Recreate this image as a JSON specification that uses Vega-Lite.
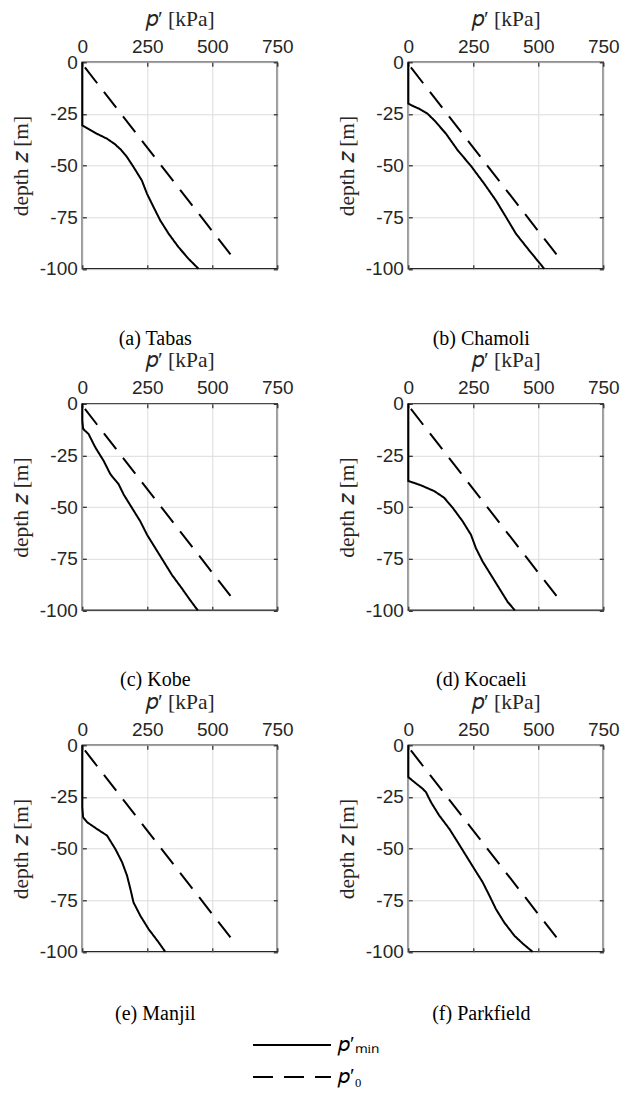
{
  "$schema": "https://vega.github.io/schema/vega-lite/v6.json",
  "autosize": {"type": "none"},
  "padding": {"left": 82.3, "top": 62.3, "right": 539.7, "bottom": 1032.7},
  "background": "white",
  "data": {"values": [
    {"q":"Tabas","s":"pmin","p":0,"z":0},{"q":"Tabas","s":"pmin","p":0,"z":-30.5},{"q":"Tabas","s":"pmin","p":20,"z":-32},{"q":"Tabas","s":"pmin","p":56,"z":-34.6},{"q":"Tabas","s":"pmin","p":95,"z":-37},{"q":"Tabas","s":"pmin","p":125,"z":-39.6},{"q":"Tabas","s":"pmin","p":150,"z":-42.5},{"q":"Tabas","s":"pmin","p":172,"z":-45.9},{"q":"Tabas","s":"pmin","p":197,"z":-50.7},{"q":"Tabas","s":"pmin","p":229,"z":-57.2},{"q":"Tabas","s":"pmin","p":249,"z":-63.7},{"q":"Tabas","s":"pmin","p":274,"z":-70.1},{"q":"Tabas","s":"pmin","p":300,"z":-76.6},{"q":"Tabas","s":"pmin","p":332,"z":-83},{"q":"Tabas","s":"pmin","p":370,"z":-89.5},{"q":"Tabas","s":"pmin","p":409,"z":-95.2},{"q":"Tabas","s":"pmin","p":447,"z":-100},
    {"q":"Tabas","s":"p0","p":10,"z":-2.5},{"q":"Tabas","s":"p0","p":585,"z":-95.5},
    {"q":"Chamoli","s":"pmin","p":0,"z":0},{"q":"Chamoli","s":"pmin","p":0,"z":-20},{"q":"Chamoli","s":"pmin","p":20,"z":-21.3},{"q":"Chamoli","s":"pmin","p":42,"z":-22.5},{"q":"Chamoli","s":"pmin","p":74,"z":-24.9},{"q":"Chamoli","s":"pmin","p":100,"z":-28.1},{"q":"Chamoli","s":"pmin","p":145,"z":-34.6},{"q":"Chamoli","s":"pmin","p":190,"z":-42.6},{"q":"Chamoli","s":"pmin","p":241,"z":-50.2},{"q":"Chamoli","s":"pmin","p":292,"z":-58.8},{"q":"Chamoli","s":"pmin","p":337,"z":-66.9},{"q":"Chamoli","s":"pmin","p":376,"z":-75},{"q":"Chamoli","s":"pmin","p":414,"z":-83},{"q":"Chamoli","s":"pmin","p":465,"z":-91.1},{"q":"Chamoli","s":"pmin","p":523,"z":-100},
    {"q":"Chamoli","s":"p0","p":10,"z":-2.5},{"q":"Chamoli","s":"p0","p":585,"z":-95.5},
    {"q":"Kobe","s":"pmin","p":0,"z":0},{"q":"Kobe","s":"pmin","p":0,"z":-8},{"q":"Kobe","s":"pmin","p":3,"z":-12},{"q":"Kobe","s":"pmin","p":10,"z":-13},{"q":"Kobe","s":"pmin","p":24,"z":-14.6},{"q":"Kobe","s":"pmin","p":50,"z":-21.1},{"q":"Kobe","s":"pmin","p":82,"z":-27.6},{"q":"Kobe","s":"pmin","p":108,"z":-34.1},{"q":"Kobe","s":"pmin","p":140,"z":-39},{"q":"Kobe","s":"pmin","p":159,"z":-43.9},{"q":"Kobe","s":"pmin","p":191,"z":-50.4},{"q":"Kobe","s":"pmin","p":223,"z":-56.9},{"q":"Kobe","s":"pmin","p":249,"z":-63.4},{"q":"Kobe","s":"pmin","p":281,"z":-69.9},{"q":"Kobe","s":"pmin","p":313,"z":-76.4},{"q":"Kobe","s":"pmin","p":345,"z":-82.9},{"q":"Kobe","s":"pmin","p":383,"z":-89.4},{"q":"Kobe","s":"pmin","p":415,"z":-95.1},{"q":"Kobe","s":"pmin","p":444,"z":-100},
    {"q":"Kobe","s":"p0","p":10,"z":-2.5},{"q":"Kobe","s":"p0","p":585,"z":-95.5},
    {"q":"Kocaeli","s":"pmin","p":0,"z":0},{"q":"Kocaeli","s":"pmin","p":0,"z":-37.4},{"q":"Kocaeli","s":"pmin","p":20,"z":-38.2},{"q":"Kocaeli","s":"pmin","p":49,"z":-39.5},{"q":"Kocaeli","s":"pmin","p":100,"z":-42.3},{"q":"Kocaeli","s":"pmin","p":138,"z":-45.5},{"q":"Kocaeli","s":"pmin","p":171,"z":-50.4},{"q":"Kocaeli","s":"pmin","p":209,"z":-56.9},{"q":"Kocaeli","s":"pmin","p":241,"z":-63.4},{"q":"Kocaeli","s":"pmin","p":260,"z":-69.9},{"q":"Kocaeli","s":"pmin","p":286,"z":-76.4},{"q":"Kocaeli","s":"pmin","p":318,"z":-82.9},{"q":"Kocaeli","s":"pmin","p":350,"z":-89.4},{"q":"Kocaeli","s":"pmin","p":382,"z":-95.9},{"q":"Kocaeli","s":"pmin","p":410,"z":-100},
    {"q":"Kocaeli","s":"p0","p":10,"z":-2.5},{"q":"Kocaeli","s":"p0","p":585,"z":-95.5},
    {"q":"Manjil","s":"pmin","p":0,"z":0},{"q":"Manjil","s":"pmin","p":0,"z":-30},{"q":"Manjil","s":"pmin","p":3,"z":-34.8},{"q":"Manjil","s":"pmin","p":18,"z":-37.2},{"q":"Manjil","s":"pmin","p":56,"z":-40.5},{"q":"Manjil","s":"pmin","p":95,"z":-43.7},{"q":"Manjil","s":"pmin","p":127,"z":-50.2},{"q":"Manjil","s":"pmin","p":153,"z":-56.6},{"q":"Manjil","s":"pmin","p":172,"z":-63.1},{"q":"Manjil","s":"pmin","p":185,"z":-69.6},{"q":"Manjil","s":"pmin","p":197,"z":-76.1},{"q":"Manjil","s":"pmin","p":223,"z":-82.5},{"q":"Manjil","s":"pmin","p":255,"z":-89},{"q":"Manjil","s":"pmin","p":294,"z":-95.5},{"q":"Manjil","s":"pmin","p":319,"z":-100},
    {"q":"Manjil","s":"p0","p":10,"z":-2.5},{"q":"Manjil","s":"p0","p":585,"z":-95.5},
    {"q":"Parkfield","s":"pmin","p":0,"z":0},{"q":"Parkfield","s":"pmin","p":0,"z":-15.4},{"q":"Parkfield","s":"pmin","p":23,"z":-17.8},{"q":"Parkfield","s":"pmin","p":55,"z":-21},{"q":"Parkfield","s":"pmin","p":68,"z":-22.7},{"q":"Parkfield","s":"pmin","p":87,"z":-27.5},{"q":"Parkfield","s":"pmin","p":119,"z":-34},{"q":"Parkfield","s":"pmin","p":158,"z":-40.5},{"q":"Parkfield","s":"pmin","p":190,"z":-46.9},{"q":"Parkfield","s":"pmin","p":222,"z":-53.4},{"q":"Parkfield","s":"pmin","p":254,"z":-59.9},{"q":"Parkfield","s":"pmin","p":286,"z":-66.3},{"q":"Parkfield","s":"pmin","p":312,"z":-72.8},{"q":"Parkfield","s":"pmin","p":337,"z":-79.3},{"q":"Parkfield","s":"pmin","p":369,"z":-85.8},{"q":"Parkfield","s":"pmin","p":408,"z":-92.2},{"q":"Parkfield","s":"pmin","p":440,"z":-96},{"q":"Parkfield","s":"pmin","p":478,"z":-100},
    {"q":"Parkfield","s":"p0","p":10,"z":-2.5},{"q":"Parkfield","s":"p0","p":585,"z":-95.5}
  ]},
  "config": {
    "view": {"stroke": "#262626", "strokeWidth": 1.5},
    "axis": {"domain": false, "tickColor": "#262626", "tickSize": -4, "tickWidth": 1.2, "labelFont": "Liberation Sans", "labelFontSize": 19, "labelColor": "#262626", "labelFlush": false, "labelOverlap": false, "titleFont": "Liberation Serif", "titleFontSize": 21.5, "titleFontWeight": "normal", "titleColor": "#262626", "gridColor": "#dcdcdc", "gridWidth": 1, "labelPadding": 9, "titlePadding": 7},
    "title": {"font": "Liberation Serif", "fontSize": 20, "fontWeight": "normal", "color": "black"},
    "legend": {"title": null, "padding": 0, "symbolType": "stroke", "symbolSize": 6084, "symbolStrokeWidth": 2, "symbolStrokeColor": "black", "labelFont": "Liberation Serif", "labelFontSize": 21, "labelColor": "black", "clipHeight": 22, "rowPadding": 10, "labelOffset": 6}
  },
  "columns": 2,
  "spacing": {"row": 134.5, "column": 131},
  "bounds": "flush",
  "concat": [
    {
      "width": 195, "height": 206.5,
      "transform": [{"filter": "datum.q === 'Tabas'"}],
      "title": {"text": "(a) Tabas", "orient": "bottom", "offset": 66.5, "baseline": "alphabetic", "anchor": "middle", "frame": "group", "dx": -24.5},
      "layer": [
        {"mark": {"type": "line", "strokeWidth": 2, "color": "black"},
         "encoding": {
           "x": {"field": "p", "type": "quantitative", "scale": {"domain": [0, 750], "nice": false}, "axis": {"orient": "top", "title": "𝑝′ [kPa]", "values": [0, 250, 500, 750], "labelExpr": "'' + datum.value", "grid": true, "labelPadding": 10}},
           "y": {"field": "z", "type": "quantitative", "scale": {"domain": [-100, 0], "nice": false}, "axis": {"orient": "left", "title": "depth 𝑧 [m]", "values": [-100, -75, -50, -25, 0], "labelExpr": "'' + datum.value", "grid": true}},
           "strokeDash": {"field": "s", "type": "nominal", "scale": {"domain": ["pmin", "p0"], "range": [[1, 0], [20, 11]]}, "legend": {"orient": "none", "legendX": 169.7, "legendY": 971.7, "labelExpr": "datum.value === 'pmin' ? '𝑝′ₘᵢₙ' : '𝑝′₀'"}},
           "order": {"field": "z", "sort": "descending"}
         }},
        {"mark": {"type": "line", "opacity": 0},
         "encoding": {
           "x": {"field": "p", "type": "quantitative", "axis": {"orient": "bottom", "title": null, "labels": false, "grid": false, "values": [0, 250, 500, 750]}},
           "y": {"field": "z", "type": "quantitative", "axis": {"orient": "right", "title": null, "labels": false, "grid": false, "values": [-100, -75, -50, -25, 0]}}
         }}
      ],
      "resolve": {"axis": {"x": "independent", "y": "independent"}}
    },
    {
      "width": 195, "height": 206.5,
      "transform": [{"filter": "datum.q === 'Chamoli'"}],
      "title": {"text": "(b) Chamoli", "orient": "bottom", "offset": 66.5, "baseline": "alphabetic", "anchor": "middle", "frame": "group", "dx": -24.5},
      "layer": [
        {"mark": {"type": "line", "strokeWidth": 2, "color": "black"},
         "encoding": {
           "x": {"field": "p", "type": "quantitative", "scale": {"domain": [0, 750], "nice": false}, "axis": {"orient": "top", "title": "𝑝′ [kPa]", "values": [0, 250, 500, 750], "labelExpr": "'' + datum.value", "grid": true, "labelPadding": 10}},
           "y": {"field": "z", "type": "quantitative", "scale": {"domain": [-100, 0], "nice": false}, "axis": {"orient": "left", "title": "depth 𝑧 [m]", "values": [-100, -75, -50, -25, 0], "labelExpr": "'' + datum.value", "grid": true}},
           "strokeDash": {"field": "s", "type": "nominal", "scale": {"domain": ["pmin", "p0"], "range": [[1, 0], [20, 11]]}, "legend": {"orient": "none", "legendX": 169.7, "legendY": 971.7, "labelExpr": "datum.value === 'pmin' ? '𝑝′ₘᵢₙ' : '𝑝′₀'"}},
           "order": {"field": "z", "sort": "descending"}
         }},
        {"mark": {"type": "line", "opacity": 0},
         "encoding": {
           "x": {"field": "p", "type": "quantitative", "axis": {"orient": "bottom", "title": null, "labels": false, "grid": false, "values": [0, 250, 500, 750]}},
           "y": {"field": "z", "type": "quantitative", "axis": {"orient": "right", "title": null, "labels": false, "grid": false, "values": [-100, -75, -50, -25, 0]}}
         }}
      ],
      "resolve": {"axis": {"x": "independent", "y": "independent"}}
    },
    {
      "width": 195, "height": 206.5,
      "transform": [{"filter": "datum.q === 'Kobe'"}],
      "title": {"text": "(c) Kobe", "orient": "bottom", "offset": 66, "baseline": "alphabetic", "anchor": "middle", "frame": "group", "dx": -24.5},
      "layer": [
        {"mark": {"type": "line", "strokeWidth": 2, "color": "black"},
         "encoding": {
           "x": {"field": "p", "type": "quantitative", "scale": {"domain": [0, 750], "nice": false}, "axis": {"orient": "top", "title": "𝑝′ [kPa]", "values": [0, 250, 500, 750], "labelExpr": "'' + datum.value", "grid": true, "labelPadding": 10}},
           "y": {"field": "z", "type": "quantitative", "scale": {"domain": [-100, 0], "nice": false}, "axis": {"orient": "left", "title": "depth 𝑧 [m]", "values": [-100, -75, -50, -25, 0], "labelExpr": "'' + datum.value", "grid": true}},
           "strokeDash": {"field": "s", "type": "nominal", "scale": {"domain": ["pmin", "p0"], "range": [[1, 0], [20, 11]]}, "legend": {"orient": "none", "legendX": 169.7, "legendY": 971.7, "labelExpr": "datum.value === 'pmin' ? '𝑝′ₘᵢₙ' : '𝑝′₀'"}},
           "order": {"field": "z", "sort": "descending"}
         }},
        {"mark": {"type": "line", "opacity": 0},
         "encoding": {
           "x": {"field": "p", "type": "quantitative", "axis": {"orient": "bottom", "title": null, "labels": false, "grid": false, "values": [0, 250, 500, 750]}},
           "y": {"field": "z", "type": "quantitative", "axis": {"orient": "right", "title": null, "labels": false, "grid": false, "values": [-100, -75, -50, -25, 0]}}
         }}
      ],
      "resolve": {"axis": {"x": "independent", "y": "independent"}}
    },
    {
      "width": 195, "height": 206.5,
      "transform": [{"filter": "datum.q === 'Kocaeli'"}],
      "title": {"text": "(d) Kocaeli", "orient": "bottom", "offset": 66, "baseline": "alphabetic", "anchor": "middle", "frame": "group", "dx": -24.5},
      "layer": [
        {"mark": {"type": "line", "strokeWidth": 2, "color": "black"},
         "encoding": {
           "x": {"field": "p", "type": "quantitative", "scale": {"domain": [0, 750], "nice": false}, "axis": {"orient": "top", "title": "𝑝′ [kPa]", "values": [0, 250, 500, 750], "labelExpr": "'' + datum.value", "grid": true, "labelPadding": 10}},
           "y": {"field": "z", "type": "quantitative", "scale": {"domain": [-100, 0], "nice": false}, "axis": {"orient": "left", "title": "depth 𝑧 [m]", "values": [-100, -75, -50, -25, 0], "labelExpr": "'' + datum.value", "grid": true}},
           "strokeDash": {"field": "s", "type": "nominal", "scale": {"domain": ["pmin", "p0"], "range": [[1, 0], [20, 11]]}, "legend": {"orient": "none", "legendX": 169.7, "legendY": 971.7, "labelExpr": "datum.value === 'pmin' ? '𝑝′ₘᵢₙ' : '𝑝′₀'"}},
           "order": {"field": "z", "sort": "descending"}
         }},
        {"mark": {"type": "line", "opacity": 0},
         "encoding": {
           "x": {"field": "p", "type": "quantitative", "axis": {"orient": "bottom", "title": null, "labels": false, "grid": false, "values": [0, 250, 500, 750]}},
           "y": {"field": "z", "type": "quantitative", "axis": {"orient": "right", "title": null, "labels": false, "grid": false, "values": [-100, -75, -50, -25, 0]}}
         }}
      ],
      "resolve": {"axis": {"x": "independent", "y": "independent"}}
    },
    {
      "width": 195, "height": 206.5,
      "transform": [{"filter": "datum.q === 'Manjil'"}],
      "title": {"text": "(e) Manjil", "orient": "bottom", "offset": 58, "baseline": "alphabetic", "anchor": "middle", "frame": "group", "dx": -24.5},
      "layer": [
        {"mark": {"type": "line", "strokeWidth": 2, "color": "black"},
         "encoding": {
           "x": {"field": "p", "type": "quantitative", "scale": {"domain": [0, 750], "nice": false}, "axis": {"orient": "top", "title": "𝑝′ [kPa]", "values": [0, 250, 500, 750], "labelExpr": "'' + datum.value", "grid": true, "labelPadding": 10}},
           "y": {"field": "z", "type": "quantitative", "scale": {"domain": [-100, 0], "nice": false}, "axis": {"orient": "left", "title": "depth 𝑧 [m]", "values": [-100, -75, -50, -25, 0], "labelExpr": "'' + datum.value", "grid": true}},
           "strokeDash": {"field": "s", "type": "nominal", "scale": {"domain": ["pmin", "p0"], "range": [[1, 0], [20, 11]]}, "legend": {"orient": "none", "legendX": 169.7, "legendY": 971.7, "labelExpr": "datum.value === 'pmin' ? '𝑝′ₘᵢₙ' : '𝑝′₀'"}},
           "order": {"field": "z", "sort": "descending"}
         }},
        {"mark": {"type": "line", "opacity": 0},
         "encoding": {
           "x": {"field": "p", "type": "quantitative", "axis": {"orient": "bottom", "title": null, "labels": false, "grid": false, "values": [0, 250, 500, 750]}},
           "y": {"field": "z", "type": "quantitative", "axis": {"orient": "right", "title": null, "labels": false, "grid": false, "values": [-100, -75, -50, -25, 0]}}
         }}
      ],
      "resolve": {"axis": {"x": "independent", "y": "independent"}}
    },
    {
      "width": 195, "height": 206.5,
      "transform": [{"filter": "datum.q === 'Parkfield'"}],
      "title": {"text": "(f) Parkfield", "orient": "bottom", "offset": 58, "baseline": "alphabetic", "anchor": "middle", "frame": "group", "dx": -24.5},
      "layer": [
        {"mark": {"type": "line", "strokeWidth": 2, "color": "black"},
         "encoding": {
           "x": {"field": "p", "type": "quantitative", "scale": {"domain": [0, 750], "nice": false}, "axis": {"orient": "top", "title": "𝑝′ [kPa]", "values": [0, 250, 500, 750], "labelExpr": "'' + datum.value", "grid": true, "labelPadding": 10}},
           "y": {"field": "z", "type": "quantitative", "scale": {"domain": [-100, 0], "nice": false}, "axis": {"orient": "left", "title": "depth 𝑧 [m]", "values": [-100, -75, -50, -25, 0], "labelExpr": "'' + datum.value", "grid": true}},
           "strokeDash": {"field": "s", "type": "nominal", "scale": {"domain": ["pmin", "p0"], "range": [[1, 0], [20, 11]]}, "legend": {"orient": "none", "legendX": 169.7, "legendY": 971.7, "labelExpr": "datum.value === 'pmin' ? '𝑝′ₘᵢₙ' : '𝑝′₀'"}},
           "order": {"field": "z", "sort": "descending"}
         }},
        {"mark": {"type": "line", "opacity": 0},
         "encoding": {
           "x": {"field": "p", "type": "quantitative", "axis": {"orient": "bottom", "title": null, "labels": false, "grid": false, "values": [0, 250, 500, 750]}},
           "y": {"field": "z", "type": "quantitative", "axis": {"orient": "right", "title": null, "labels": false, "grid": false, "values": [-100, -75, -50, -25, 0]}}
         }}
      ],
      "resolve": {"axis": {"x": "independent", "y": "independent"}}
    }
  ]
}
